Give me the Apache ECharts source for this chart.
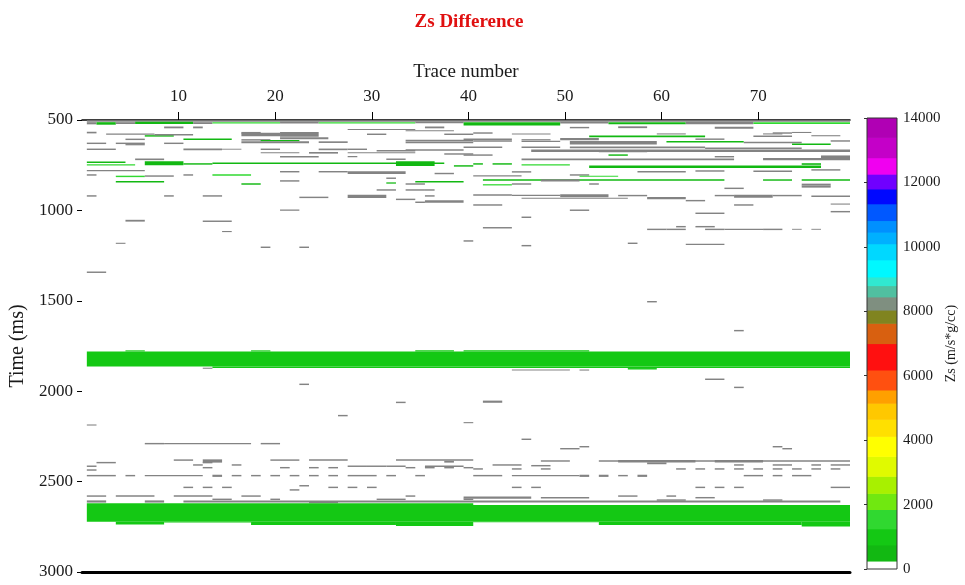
<!DOCTYPE html>
<html><head><meta charset="utf-8">
<script src="https://cdn.jsdelivr.net/npm/echarts@6/dist/echarts.min.js"></script>
<style>html,body{margin:0;padding:0;background:#fff}#c{width:965px;height:585px}</style>
</head><body><div id="c"></div>
<script>
// ---- data ----
const xTicks = [10, 20, 30, 40, 50, 60, 70];
const GRAY = 8250, DG = 500, BG = 1000, LG = 1500;
// each row: [timeStart(ms), timeEnd(ms), firstTrace, lastTrace, Zs value]
const rowsTop = [
  [502,510,1,79,GRAY],
  [512,524,1,1,GRAY],[512,526,2,3,DG],[512,522,4,5,GRAY],[510,522,6,11,DG],[512,522,12,13,GRAY],
  [512,520,14,20,LG],[510,520,21,24,GRAY],[512,520,25,34,LG],[510,518,35,39,GRAY],[512,530,40,49,DG],
  [510,520,50,54,GRAY],[512,524,55,62,DG],[510,524,63,69,GRAY],[512,522,70,79,LG],
  [536,546,9,10,GRAY],[536,546,12,12,GRAY],[536,546,36,37,GRAY],[538,546,51,52,GRAY],[535,545,56,58,GRAY],
  [538,548,66,69,GRAY],[550,555,28,34,GRAY],
  [565,574,1,1,GRAY],[566,575,17,18,GRAY],[568,576,41,42,GRAY],[568,576,72,73,GRAY],[566,572,74,75,GRAY],
  [574,582,3,7,GRAY],[584,592,7,9,DG],[578,586,8,11,GRAY],[570,590,17,20,GRAY],[566,592,21,24,GRAY],
  [575,583,30,31,GRAY],[575,583,38,40,GRAY],[557,562,34,38,GRAY],[575,580,45,48,GRAY],[574,580,60,62,GRAY],
  [574,580,71,72,GRAY]
];
const rowsUpper = [
  [586,595,53,64,DG],[603,611,40,44,GRAY],[606,613,46,48,GRAY],[600,612,50,53,GRAY],[602,610,64,66,GRAY],
  [586,594,70,73,GRAY],[584,590,76,78,GRAY],[603,611,11,15,DG],[603,611,5,6,GRAY],[606,614,17,19,GRAY],
  [596,606,21,25,GRAY],[610,618,19,22,DG],[609,618,34,40,GRAY],
  [625,633,1,2,GRAY],[625,633,4,6,GRAY],[625,633,9,10,GRAY],[618,628,17,23,GRAY],[618,627,25,27,GRAY],
  [619,628,34,40,GRAY],[612,620,41,44,GRAY],[615,622,46,49,GRAY],[616,636,51,59,GRAY],[616,624,61,68,DG],
  [620,628,69,74,GRAY],[630,638,74,77,DG],[612,620,78,79,GRAY],[633,640,5,6,GRAY],
  [647,655,40,43,GRAY],[647,655,46,49,GRAY],[646,656,51,64,GRAY],[652,660,65,74,GRAY],[658,666,1,3,GRAY],
  [658,667,11,14,GRAY],[659,664,15,16,GRAY],[658,666,19,20,GRAY],[658,667,25,27,GRAY],[658,666,28,29,GRAY],
  [666,674,31,34,GRAY],[662,670,34,39,GRAY],[663,677,47,79,GRAY],[671,679,54,58,GRAY],
  [678,684,19,22,GRAY],[677,686,24,26,GRAY],[678,684,28,34,GRAY],[684,692,38,40,GRAY],[690,698,40,42,GRAY],
  [690,698,55,56,DG],[699,707,66,67,GRAY],[696,717,77,79,GRAY],[699,708,21,24,GRAY],[699,706,28,28,GRAY],
  [713,722,6,8,GRAY],[713,721,32,33,GRAY],[713,722,46,67,GRAY],[710,722,71,79,GRAY]
];
const rowsGreen = [
  [730,738,1,4,DG],[745,752,1,5,LG],[728,750,7,10,DG],[739,747,11,13,DG],[735,743,14,37,DG],
  [728,754,33,36,DG],[750,758,39,40,DG],[739,747,41,41,DG],[739,747,43,44,DG],[745,752,46,50,LG],
  [752,766,53,76,DG],[739,748,75,76,DG]
];
const rowsMid = [
  [777,783,1,6,GRAY],[782,790,21,22,GRAY],[782,790,25,27,GRAY],[783,798,28,33,GRAY],[792,800,37,38,GRAY],
  [783,791,45,46,GRAY],[782,790,58,62,GRAY],[778,786,64,66,GRAY],[780,788,70,73,GRAY],[772,780,76,78,GRAY],
  [800,808,1,1,GRAY],[808,816,4,6,LG],[806,814,7,9,GRAY],[800,808,11,11,GRAY],[800,808,14,17,LG],
  [818,826,32,32,GRAY],[806,812,41,45,GRAY],[800,808,51,52,GRAY],[808,814,52,55,LG],
  [828,836,42,66,DG],[828,840,48,51,GRAY],[828,836,71,73,DG],[828,836,75,79,DG],[852,862,75,77,GRAY],
  [837,845,4,8,DG],[850,858,17,18,DG],[833,841,21,22,GRAY],[837,845,35,39,DG],[845,852,32,32,DG],
  [850,858,34,35,GRAY],[855,862,42,44,LG],[850,858,45,46,GRAY],[850,858,53,53,GRAY],[874,882,67,68,GRAY],
  [862,874,75,77,GRAY],
  [883,891,31,32,GRAY],[883,891,34,35,GRAY],[883,891,36,36,GRAY],
  [916,924,1,1,GRAY],[916,924,9,9,GRAY],[916,924,13,14,GRAY],[924,932,23,25,GRAY],[914,932,28,31,GRAY],
  [916,924,36,36,GRAY],[911,919,41,44,GRAY],[913,921,45,49,GRAY],[911,927,50,54,GRAY],[914,922,56,58,GRAY],
  [926,938,59,62,GRAY],[942,950,63,64,GRAY],[914,922,66,67,GRAY],[914,930,68,71,GRAY],[914,922,72,74,GRAY],
  [918,926,76,79,GRAY],[930,936,46,56,GRAY],
  [944,958,36,39,GRAY],[935,943,33,34,GRAY],[951,959,35,35,GRAY],[966,974,41,43,GRAY],[966,974,68,69,GRAY],
  [962,968,78,79,GRAY]
];
const rowsSparse = [
  [995,1002,21,22,GRAY],[995,1003,51,52,GRAY],[1003,1011,78,79,GRAY],[1012,1020,64,66,GRAY],
  [1034,1042,46,46,GRAY],[1052,1062,5,6,GRAY],[1056,1064,13,15,GRAY],
  [1086,1094,62,62,GRAY],[1086,1094,64,65,GRAY],[1092,1100,42,44,GRAY],[1101,1109,59,60,GRAY],
  [1101,1109,61,62,GRAY],[1101,1109,65,66,GRAY],[1101,1109,67,70,GRAY],[1101,1109,71,72,GRAY],
  [1102,1107,74,74,GRAY],[1102,1107,76,76,GRAY],[1114,1120,15,15,GRAY],[1165,1173,40,40,GRAY],
  [1179,1185,4,4,GRAY],[1178,1186,57,57,GRAY],[1184,1192,63,66,GRAY],[1191,1199,46,46,GRAY],
  [1200,1208,19,19,GRAY],[1200,1208,23,23,GRAY],
  [1338,1346,1,2,GRAY],[1501,1509,59,59,GRAY],[1661,1669,68,68,GRAY]
];
const rowsBand1 = [
  [1780,1864,1,79,BG],[1864,1872,14,79,BG],[1774,1780,5,6,BG],[1774,1780,18,19,BG],
  [1774,1780,35,38,BG],[1774,1780,40,52,BG],[1872,1880,57,59,BG]
];
const rowsLower = [
  [1870,1876,13,13,GRAY],[1880,1886,45,50,GRAY],[1880,1886,52,52,GRAY],[1930,1938,65,66,GRAY],
  [1958,1966,23,23,GRAY],[1975,1983,68,68,GRAY],[2052,2064,42,43,GRAY],[2058,2066,33,33,GRAY],
  [2131,2139,27,27,GRAY],[2171,2177,40,40,GRAY],[2184,2190,1,1,GRAY],[2262,2270,46,46,GRAY],
  [2286,2294,7,8,GRAY],[2287,2293,9,17,GRAY],[2286,2294,19,20,GRAY],[2303,2311,52,52,GRAY],
  [2303,2311,72,72,GRAY],[2314,2322,50,51,GRAY],[2314,2322,73,73,GRAY],
  [2377,2385,10,11,GRAY],[2377,2395,13,14,GRAY],[2377,2385,20,22,GRAY],[2377,2385,24,27,GRAY],
  [2377,2385,33,40,GRAY],[2385,2395,38,38,GRAY],[2382,2390,48,50,GRAY],[2382,2390,54,79,GRAY],
  [2380,2394,56,63,GRAY],[2380,2394,66,70,GRAY],[2394,2404,59,60,GRAY],
  [2391,2399,2,3,GRAY],[2391,2399,13,13,GRAY],[2404,2412,12,12,GRAY],[2404,2412,16,16,GRAY],
  [2404,2412,43,45,GRAY],[2408,2416,47,48,GRAY],[2404,2412,68,68,GRAY],[2404,2412,72,73,GRAY],
  [2404,2412,76,76,GRAY],[2404,2412,78,79,GRAY],[2411,2419,1,1,GRAY],[2411,2419,28,29,GRAY],
  [2411,2419,30,31,GRAY],[2411,2419,32,33,GRAY],[2411,2419,36,39,GRAY],
  [2419,2427,13,13,GRAY],[2419,2427,21,21,GRAY],[2419,2427,24,24,GRAY],[2419,2427,26,26,GRAY],
  [2419,2427,34,34,GRAY],[2419,2427,36,36,GRAY],[2419,2427,38,38,GRAY],[2419,2427,40,40,GRAY],
  [2426,2434,41,41,GRAY],[2426,2434,45,45,GRAY],[2426,2434,48,48,GRAY],[2426,2434,62,62,GRAY],
  [2426,2434,64,64,GRAY],[2426,2434,66,66,GRAY],[2426,2434,68,68,GRAY],[2426,2434,70,70,GRAY],
  [2426,2434,72,72,GRAY],[2426,2434,74,74,GRAY],[2426,2434,76,76,GRAY],[2426,2434,78,78,GRAY],
  [2432,2440,1,1,GRAY],
  [2463,2471,1,3,GRAY],[2463,2471,5,5,GRAY],[2463,2471,7,12,GRAY],[2462,2474,14,14,GRAY],
  [2463,2471,16,16,GRAY],[2463,2471,18,18,GRAY],[2463,2471,20,20,GRAY],[2463,2471,22,22,GRAY],
  [2463,2471,24,24,GRAY],[2463,2471,26,26,GRAY],[2463,2471,28,30,GRAY],[2463,2471,32,32,GRAY],
  [2463,2471,35,35,GRAY],[2463,2471,41,43,GRAY],[2463,2471,45,51,GRAY],[2462,2474,52,52,GRAY],
  [2462,2474,54,54,GRAY],[2463,2471,56,56,GRAY],[2462,2474,58,58,GRAY],[2463,2471,69,70,GRAY],
  [2463,2471,72,72,GRAY],[2463,2471,74,75,GRAY],
  [2519,2527,23,23,GRAY],[2528,2536,11,11,GRAY],[2528,2536,13,13,GRAY],[2528,2536,15,15,GRAY],
  [2528,2536,26,26,GRAY],[2528,2536,28,28,GRAY],[2528,2536,30,30,GRAY],[2542,2550,22,22,GRAY],
  [2528,2536,45,45,GRAY],[2528,2536,47,47,GRAY],[2528,2536,64,64,GRAY],[2528,2536,66,66,GRAY],
  [2528,2536,68,68,GRAY],[2528,2536,78,79,GRAY],
  [2576,2584,1,2,GRAY],[2576,2584,4,7,GRAY],[2576,2584,10,13,GRAY],[2576,2584,17,18,GRAY],
  [2576,2584,34,34,GRAY],[2576,2584,56,57,GRAY],[2576,2584,61,61,GRAY],[2583,2595,40,46,GRAY],
  [2585,2593,48,52,GRAY],[2585,2593,64,65,GRAY],[2594,2602,14,15,GRAY],[2594,2602,20,20,GRAY],
  [2594,2602,31,33,GRAY],[2594,2602,40,40,GRAY],[2598,2606,60,62,GRAY],[2598,2606,71,72,GRAY],
  [2604,2616,1,2,GRAY],[2604,2616,7,8,GRAY],[2604,2616,11,78,GRAY],[2612,2620,24,26,GRAY]
];
const rowsBand2 = [
  [2630,2722,1,79,BG],[2620,2630,1,40,BG],[2722,2737,4,8,BG],[2722,2726,9,17,BG],[2722,2740,18,32,BG],
  [2722,2745,33,40,BG],[2722,2725,41,53,BG],[2722,2740,54,74,BG],[2722,2748,75,79,BG]
];
// colour scale (Zs, m/s*g/cc)
const cmapBreaks = [0,250,750,1250,1850,2350,2880,3500,4120,4650,5150,5560,6180,7000,7630,8040,8450,8800,9070,9600,10100,10460,10820,11340,11800,12260,12770,13400,14000];
const cmapColors = ['#ffffff','#12b812','#14c814','#30d830','#70e810','#a8f000','#e0fa00','#ffff00','#ffe000','#ffc800','#ffa000','#ff5010','#ff1010','#d86010','#808420','#7f8f80','#50c0a0','#30e8d0','#00f8ff','#00d8ff','#00b0ff','#0090ff','#0058ff','#0008ff','#7000ff','#f000f0','#c400c8','#b000b4'];
const dataGray = '#838383';

// ---- chart ----
const segs = [].concat(rowsTop, rowsUpper, rowsGreen, rowsMid, rowsSparse, rowsBand1, rowsLower, rowsBand2);
const pieces = cmapColors.map((c, i) => i === cmapColors.length - 1
  ? { gte: cmapBreaks[i], lte: cmapBreaks[i + 1], color: c }
  : { gte: cmapBreaks[i], lt: cmapBreaks[i + 1], color: (cmapBreaks[i] <= GRAY && GRAY < cmapBreaks[i + 1]) ? dataGray : c });
const cbData = cmapColors.map((c, i) => [cmapBreaks[i], cmapBreaks[i + 1], i]);
const serif = 'Liberation Serif';
const txt = '#1a1a1a';

const chart = echarts.init(document.getElementById('c'), null, { renderer: 'canvas' });
chart.setOption({
  animation: false,
  backgroundColor: '#fff',
  title: {
    text: 'Zs Difference', left: 464, top: 8, textAlign: 'center',
    textStyle: { color: '#e01010', fontFamily: serif, fontWeight: 'bold', fontSize: 19 }
  },
  grid: [
    { left: 82, right: 115, top: 120, bottom: 13 },
    { left: 867, width: 30, top: 118, height: 451 }
  ],
  visualMap: {
    type: 'piecewise', show: false, dimension: 4, seriesIndex: 0, pieces: pieces
  },
  xAxis: [
    {
      type: 'value', gridIndex: 0, position: 'top', min: 0, max: 79.5,
      axisLine: { show: true, onZero: false, lineStyle: { color: '#000', width: 1.5 } },
      axisTick: { show: true, customValues: xTicks, length: 8, lineStyle: { color: '#000' } },
      axisLabel: { customValues: xTicks, fontFamily: serif, fontSize: 17, color: txt, margin: 15 },
      splitLine: { show: false },
      name: 'Trace number', nameLocation: 'middle', nameGap: 38,
      nameTextStyle: { fontFamily: serif, fontSize: 19, color: txt }
    },
    {
      type: 'value', gridIndex: 0, position: 'bottom', min: 0, max: 79.5,
      axisLine: { show: true, onZero: false, lineStyle: { color: '#000', width: 3 } },
      axisTick: { show: false }, axisLabel: { show: false }, splitLine: { show: false }
    },
    { type: 'value', gridIndex: 1, min: 0, max: 1, show: false }
  ],
  yAxis: [
    {
      type: 'value', gridIndex: 0, inverse: true, min: 500, max: 3000, interval: 500,
      axisLine: { show: false },
      axisTick: { show: true, length: 5, lineStyle: { color: '#000' } },
      axisLabel: { fontFamily: serif, fontSize: 17, color: txt, margin: 9, formatter: v => String(v) },
      splitLine: { show: false },
      name: 'Time (ms)', nameLocation: 'middle', nameGap: 53,
      nameTextStyle: { fontFamily: serif, fontSize: 20, color: txt }
    },
    {
      type: 'value', gridIndex: 1, position: 'right', min: 0, max: 14000, interval: 2000,
      axisLine: { show: false },
      axisTick: { show: true, inside: true, length: 3, lineStyle: { color: '#333' } },
      axisLabel: { fontFamily: serif, fontSize: 15, color: txt, margin: 6, formatter: v => String(v) },
      splitLine: { show: false },
      name: 'Zs (m/s*g/cc)', nameLocation: 'middle', nameGap: 46,
      nameTextStyle: { fontFamily: serif, fontSize: 14, color: txt }
    }
  ],
  series: [
    {
      type: 'custom', xAxisIndex: 0, yAxisIndex: 0, clip: true,
      dimensions: ['t0', 't1', 'c0', 'c1', 'v'],
      encode: { x: [2, 3], y: [0, 1] },
      data: segs,
      renderItem: function (params, api) {
        const p0 = api.coord([api.value(2) - 0.5, api.value(0)]);
        const p1 = api.coord([api.value(3) + 0.5, api.value(1)]);
        return { type: 'rect', shape: { x: p0[0], y: p0[1], width: p1[0] - p0[0], height: p1[1] - p0[1] },
                 style: { fill: api.visual('color') } };
      }
    },
    {
      type: 'custom', xAxisIndex: 2, yAxisIndex: 1, silent: true,
      encode: { y: [0, 1] },
      data: cbData,
      renderItem: function (params, api) {
        const p0 = api.coord([0, api.value(1)]);
        const p1 = api.coord([1, api.value(0)]);
        return { type: 'rect', shape: { x: p0[0], y: p0[1], width: p1[0] - p0[0], height: p1[1] - p0[1] + 0.6 },
                 style: { fill: cmapColors[api.value(2)] } };
      }
    },
    {
      type: 'custom', xAxisIndex: 2, yAxisIndex: 1, silent: true, z: 5,
      encode: { y: [0, 1] },
      data: [[cmapBreaks[0], cmapBreaks[cmapBreaks.length - 1]]],
      renderItem: function (params, api) {
        const p0 = api.coord([0, api.value(1)]);
        const p1 = api.coord([1, api.value(0)]);
        return { type: 'rect', shape: { x: p0[0], y: p0[1], width: p1[0] - p0[0], height: p1[1] - p0[1] },
                 style: { fill: 'none', stroke: '#333', lineWidth: 1 } };
      }
    }
  ]
});
</script>
</body></html>
